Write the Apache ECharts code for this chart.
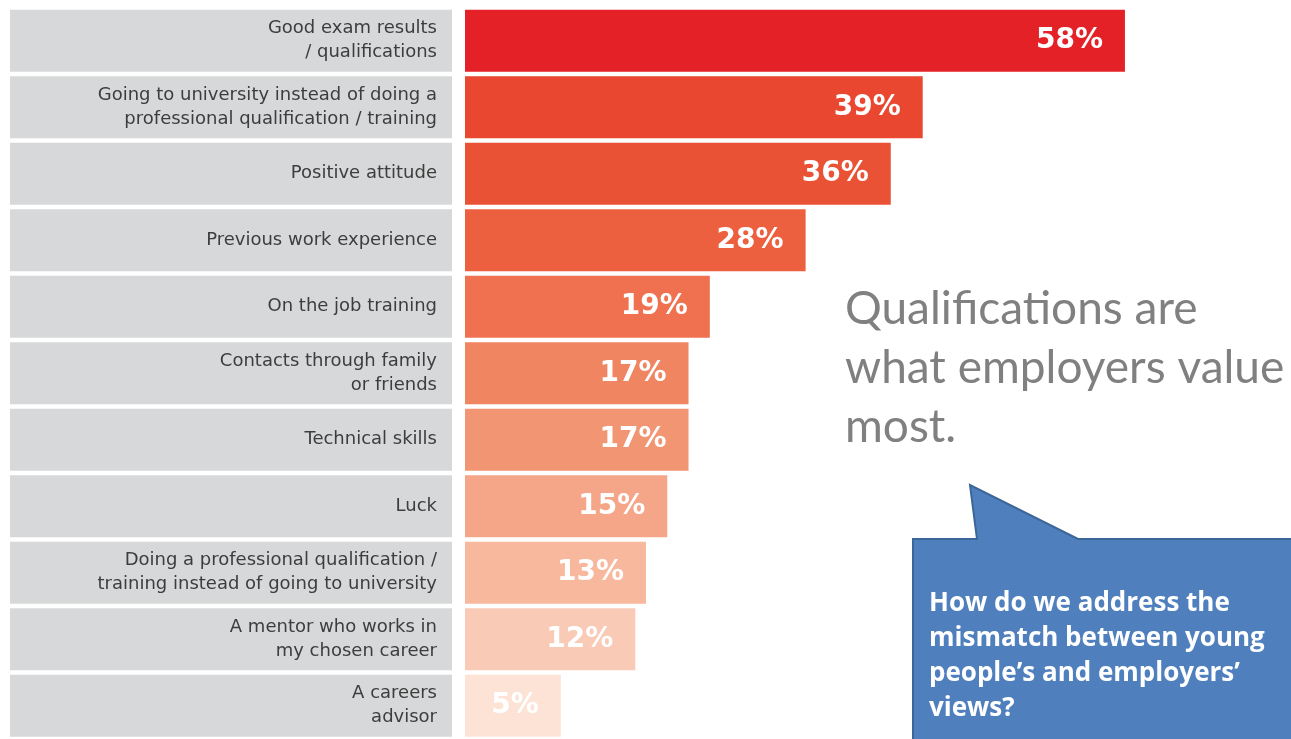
<!DOCTYPE html>
<html>
<head>
<meta charset="utf-8">
<script src="https://cdn.jsdelivr.net/npm/echarts@6/dist/echarts.min.js"></script>
<style>
  html, body { margin: 0; padding: 0; background: #fff; }
  #chart { width: 1291px; height: 739px; }
</style>
</head>
<body>
<div id="chart"></div>
<script>
  // what employers value, top to bottom
  var categories = [
    "Good exam results\n/ qualifications",
    "Going to university instead of doing a\nprofessional qualification / training",
    "Positive attitude",
    "Previous work experience",
    "On the job training",
    "Contacts through family\nor friends",
    "Technical skills",
    "Luck",
    "Doing a professional qualification /\ntraining instead of going to university",
    "A mentor who works in\nmy chosen career",
    "A careers\nadvisor"
  ];
  var values = [58, 39, 36, 28, 19, 17, 17, 15, 13, 12, 5];
  var barColors = ["#e52128", "#e9472f", "#ea5236", "#ec5f3f", "#ef7150", "#f08562", "#f29572",
    "#f5a688", "#f7b89d", "#f9cbb6", "#fce3d6"];

  var chart = echarts.init(document.getElementById("chart"));
  var labelStyle = { fontFamily: "DejaVu Sans", fontSize: 18, color: "#3d3d3d", align: "right" };
  var option = {
    backgroundColor: "#fff",
    animation: false,
    grid: { left: 465, top: 7.5, width: 826, height: 737 },
    xAxis: {
      type: "value",
      min: -4,
      max: 73.6,
      startValue: -4,
      show: false
    },
    yAxis: {
      type: "category",
      inverse: true,
      data: categories,
      axisLine: { show: false },
      axisTick: { show: false },
      axisLabel: {
        interval: 0,
        margin: 13,
        width: 427,
        padding: [7, 15, 7, 0],
        backgroundColor: "#d7d8d9",
        align: "right",
        formatter: function (v) {
          var lines = v.split("\n");
          if (lines.length === 1) return "{a|" + v + "}";
          return lines.map(function (l) { return "{b|" + l + "}"; }).join("\n");
        },
        rich: {
          a: Object.assign({ lineHeight: 48 }, labelStyle),
          b: Object.assign({ lineHeight: 24 }, labelStyle)
        }
      }
    },
    series: [{
      type: "bar",
      barWidth: 62,
      data: values.map(function (v, i) {
        return { value: v, itemStyle: { color: barColors[i] } };
      }),
      label: {
        show: true,
        position: "insideRight",
        distance: 22,
        color: "#fff",
        fontFamily: "DejaVu Sans",
        fontWeight: "bold",
        fontSize: 28,
        formatter: "{c}%"
      }
    }],
    graphic: [
      {
        type: "text",
        left: 845,
        top: 280,
        style: {
          text: "Qualifications are\nwhat employers value\nmost.",
          fontFamily: "Lato",
          fontSize: 46,
          lineHeight: 59,
          fill: "#808080"
        }
      },
      {
        type: "polygon",
        shape: {
          points: [[913, 539], [977, 539], [970, 485], [1078, 539], [1296, 539], [1296, 745], [913, 745]]
        },
        style: { fill: "#4f80bd", stroke: "#3b6698", lineWidth: 2 }
      },
      {
        type: "text",
        left: 929,
        top: 586,
        style: {
          text: "How do we address the\nmismatch between young\npeople\u2019s and employers\u2019\nviews?",
          fontFamily: "Open Sans",
          fontWeight: "bold",
          fontSize: 26,
          lineHeight: 35,
          fill: "#fff"
        }
      }
    ]
  };
  chart.setOption(option);
</script>
</body>
</html>
